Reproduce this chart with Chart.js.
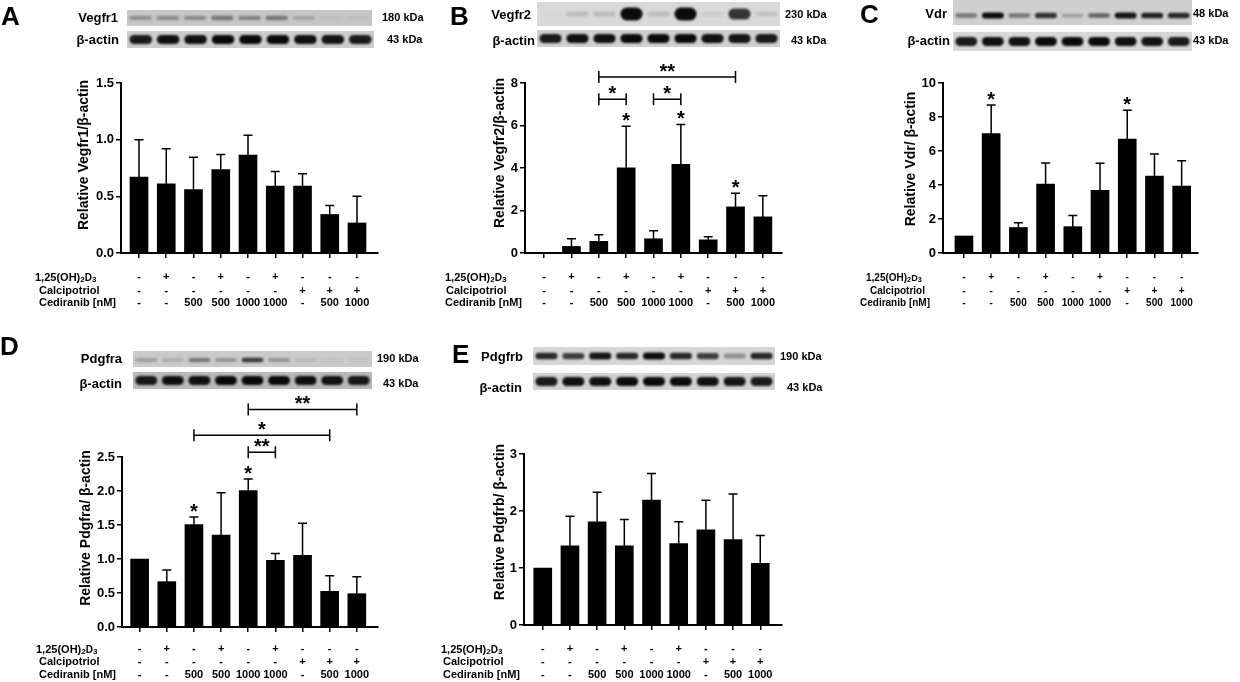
<!DOCTYPE html>
<html lang="en">
<head>
<meta charset="utf-8">
<title>Receptor expression after vitamin D and cediranib</title>
<script src="https://cdn.jsdelivr.net/npm/chart.js@4.4.0/dist/chart.umd.min.js"></script>
<style>
  html, body { margin: 0; padding: 0; background: #fff; }
  #figure { position: relative; width: 1240px; height: 682px; overflow: hidden; }
  #figure canvas { position: absolute; left: 0; top: 0; }
</style>
</head>
<body>
<div id="figure">
  <canvas id="panelA" width="1240" height="682"></canvas>
  <canvas id="panelB" width="1240" height="682"></canvas>
  <canvas id="panelC" width="1240" height="682"></canvas>
  <canvas id="panelD" width="1240" height="682"></canvas>
  <canvas id="panelE" width="1240" height="682"></canvas>
</div>
<script>
const FONT = "Arial, 'Liberation Sans', Helvetica, sans-serif";

// treatment table shown under every graph
const vitD3 = ['-', '+', '-', '+', '-', '+', '-', '-', '-'];
const calcipotriol = ['-', '-', '-', '-', '-', '-', '+', '+', '+'];
const cediranib = ['-', '-', '500', '500', '1000', '1000', '-', '500', '1000'];

// bar heights (mean) and error bars (SD)
const vegfr1Mean = [0.67, 0.61, 0.56, 0.735, 0.865, 0.59, 0.59, 0.34, 0.265];
const vegfr1Sd = [0.33, 0.31, 0.285, 0.135, 0.175, 0.13, 0.11, 0.08, 0.235];

const vegfr2Mean = [0, 0.31, 0.55, 4.01, 0.67, 4.17, 0.62, 2.17, 1.70];
const vegfr2Sd = [0, 0.36, 0.31, 1.96, 0.38, 1.88, 0.14, 0.64, 1.0];

const vdrMean = [1.0, 7.03, 1.5, 4.06, 1.55, 3.68, 6.7, 4.52, 3.93];
const vdrSd = [0, 1.67, 0.28, 1.23, 0.65, 1.6, 1.7, 1.3, 1.5];

const pdgfraMean = [1.0, 0.667, 1.506, 1.353, 2.005, 0.98, 1.054, 0.525, 0.49];
const pdgfraSd = [0, 0.17, 0.11, 0.62, 0.17, 0.10, 0.47, 0.23, 0.25];

const pdgfrbMean = [1.0, 1.39, 1.81, 1.39, 2.19, 1.43, 1.67, 1.50, 1.08];
const pdgfrbSd = [0, 0.52, 0.52, 0.46, 0.47, 0.38, 0.52, 0.8, 0.49];

// band strength on the blots (0 = nothing, 1 = black)
const vegfr1Bands = [0.3, 0.32, 0.32, 0.42, 0.38, 0.42, 0.2, 0.05, 0.05];
const vegfr2Bands = [0.02, 0.15, 0.15, 1, 0.15, 1, 0.08, 0.8, 0.12];
const vdrBands = [0.45, 1, 0.45, 0.8, 0.25, 0.55, 0.95, 0.9, 0.85];
const pdgfraBands = [0.25, 0.15, 0.45, 0.3, 0.75, 0.3, 0.1, 0.05, 0.05];
const pdgfrbBands = [0.85, 0.75, 0.95, 0.85, 1, 0.85, 0.75, 0.35, 0.85];
const actinBands = [0.92, 0.97, 0.97, 1, 1, 1, 0.97, 0.95, 0.92];

const panels = [
  {
    canvas: 'panelA', letter: 'A', letterPos: [1, 25],
    mean: vegfr1Mean, sd: vegfr1Sd, stars: [], brackets: [],
    yMax: 1.5, yStep: 0.5, yDecimals: 1, xMin: -0.66, xMax: 8.77,
    area: { left: 121, top: 83, right: 378, bottom: 253 },
    yTitle: 'Relative Vegfr1/β-actin', yTitlePos: [84, 155],
    blots: [
      { name: 'Vegfr1', size: '180 kDa', bands: vegfr1Bands, rect: [127, 10, 245, 16], bg: 198, nameX: 118, sizeX: 382, textY: 18, h: [3, 6], dy: 0 },
      { name: 'β-actin', size: '43 kDa', bands: actinBands, rect: [127, 31, 247, 17], bg: 205, nameX: 119, sizeX: 387, textY: 40, h: [7, 9], dy: 0 }
    ],
    table: { x: [35, 39, 39], y: [277, 291, 303], size: 11 }
  },
  {
    canvas: 'panelB', letter: 'B', letterPos: [450, 25],
    mean: vegfr2Mean, sd: vegfr2Sd, stars: [3, 5, 7],
    brackets: [[2, 7, '**', 8.28], [2, 3, '*', 7.23], [4, 5, '*', 7.23]],
    yMax: 8, yStep: 2, yDecimals: 0, xMin: -0.7, xMax: 8.7,
    area: { left: 525, top: 83, right: 782, bottom: 253 },
    yTitle: 'Relative Vegfr2/β-actin', yTitlePos: [500, 153],
    blots: [
      { name: 'Vegfr2', size: '230 kDa', bands: vegfr2Bands, rect: [537, 2, 243, 24], bg: 217, nameX: 531, sizeX: 785, textY: 15, h: [3, 13], dy: 0 },
      { name: 'β-actin', size: '43 kDa', bands: actinBands, rect: [537, 30, 243, 17], bg: 208, nameX: 535, sizeX: 791, textY: 41, h: [7, 9], dy: 0 }
    ],
    table: { x: [445, 446, 445], y: [277, 291, 303], size: 11 }
  },
  {
    canvas: 'panelC', letter: 'C', letterPos: [860, 23],
    mean: vdrMean, sd: vdrSd, stars: [1, 6], brackets: [],
    yMax: 10, yStep: 2, yDecimals: 0, xMin: -0.77, xMax: 8.6,
    area: { left: 943, top: 83, right: 1198, bottom: 253 },
    yTitle: 'Relative Vdr/ β-actin', yTitlePos: [911, 159],
    blots: [
      { name: 'Vdr', size: '48 kDa', bands: vdrBands, rect: [953, 0, 239, 25], bg: 207, nameX: 947, sizeX: 1193, textY: 14, h: [3, 6], dy: 3 },
      { name: 'β-actin', size: '43 kDa', bands: actinBands, rect: [953, 32, 239, 19], bg: 215, nameX: 950, sizeX: 1193, textY: 41, h: [7, 9], dy: 0 }
    ],
    table: { x: [866, 870, 860], y: [277, 291, 303], size: 10 }
  },
  {
    canvas: 'panelD', letter: 'D', letterPos: [0, 355],
    mean: pdgfraMean, sd: pdgfraSd, stars: [2, 4],
    brackets: [[4, 8, '**', 3.2], [2, 7, '*', 2.82], [4, 5, '**', 2.57]],
    yMax: 2.5, yStep: 0.5, yDecimals: 1, xMin: -0.65, xMax: 8.78,
    area: { left: 122, top: 457, right: 378, bottom: 627 },
    yTitle: 'Relative Pdgfra/ β-actin', yTitlePos: [86, 528],
    blots: [
      { name: 'Pdgfra', size: '190 kDa', bands: pdgfraBands, rect: [133, 351, 239, 16], bg: 202, nameX: 122, sizeX: 377, textY: 359, h: [3, 5], dy: 1 },
      { name: 'β-actin', size: '43 kDa', bands: actinBands, rect: [133, 372, 239, 17], bg: 185, nameX: 122, sizeX: 383, textY: 384, h: [7, 9], dy: 0 }
    ],
    table: { x: [36, 39, 39], y: [649, 662, 675], size: 11 }
  },
  {
    canvas: 'panelE', letter: 'E', letterPos: [452, 363],
    mean: pdgfrbMean, sd: pdgfrbSd, stars: [], brackets: [],
    yMax: 3, yStep: 1, yDecimals: 0, xMin: -0.69, xMax: 8.8,
    area: { left: 524, top: 454, right: 782, bottom: 625 },
    yTitle: 'Relative Pdgfrb/ β-actin', yTitlePos: [500, 522],
    blots: [
      { name: 'Pdgfrb', size: '190 kDa', bands: pdgfrbBands, rect: [533, 347, 242, 18], bg: 214, nameX: 523, sizeX: 780, textY: 357, h: [4, 7], dy: 0 },
      { name: 'β-actin', size: '43 kDa', bands: actinBands, rect: [533, 373, 242, 17], bg: 211, nameX: 522, sizeX: 787, textY: 388, h: [7, 9], dy: 0 }
    ],
    table: { x: [441, 443, 443], y: [649, 662, 675], size: 11 }
  }
];

const Y_WIDTH = 50;
const X_HEIGHT = 10;

function drawBlot(ctx, b) {
  const [x, y, w, h] = b.rect;
  ctx.fillStyle = `rgb(${b.bg},${b.bg},${b.bg})`;
  ctx.fillRect(x, y, w, h);
  const lane = w / b.bands.length;
  ctx.save();
  ctx.filter = 'blur(1px)';
  b.bands.forEach((v, i) => {
    if (v <= 0) return;
    const g = Math.round(b.bg * (1 - 0.95 * v));
    const bw = lane * 0.82;
    const bh = b.h[0] + (b.h[1] - b.h[0]) * v;
    const cx = x + lane * (i + 0.5);
    const cy = y + h / 2 + b.dy;
    ctx.fillStyle = `rgb(${g},${g},${g})`;
    ctx.beginPath();
    ctx.roundRect(cx - bw / 2, cy - bh / 2, bw, bh, bh / 2);
    ctx.fill();
  });
  ctx.restore();

  ctx.fillStyle = '#000';
  ctx.textBaseline = 'middle';
  ctx.font = `bold 13px ${FONT}`;
  ctx.textAlign = 'right';
  ctx.fillText(b.name, b.nameX, b.textY);
  ctx.font = `bold 11px ${FONT}`;
  ctx.textAlign = 'left';
  ctx.fillText(b.size, b.sizeX, b.textY);
}

function drawVitDLabel(ctx, x, y, size) {
  // 1,25(OH)2D3 with the small subscript digits
  const k = size / 11;
  const parts = [['1,25(OH)', size, 0], ['2', 8 * k, 1], ['D', 10 * k, 0], ['3', 8 * k, 1]];
  ctx.textAlign = 'left';
  ctx.textBaseline = 'alphabetic';
  let cx = x;
  parts.forEach(([t, s, dy]) => {
    ctx.font = `bold ${s}px ${FONT}`;
    ctx.fillText(t, cx, y + 4 * k + dy);
    cx += ctx.measureText(t).width;
  });
}

function makeFigurePlugin(p) {
  return {
    id: 'figure',
    afterDatasetsDraw(chart) {
      const ctx = chart.ctx;
      const xs = chart.scales.x, ys = chart.scales.y;
      ctx.save();
      ctx.strokeStyle = '#000';
      ctx.lineWidth = 1.5;
      p.mean.forEach((m, i) => {
        if (!p.sd[i]) return;
        const px = xs.getPixelForValue(i);
        const y0 = ys.getPixelForValue(m);
        const y1 = ys.getPixelForValue(m + p.sd[i]);
        ctx.beginPath();
        ctx.moveTo(px, y0);
        ctx.lineTo(px, y1);
        ctx.moveTo(px - 4.5, y1);
        ctx.lineTo(px + 4.5, y1);
        ctx.stroke();
      });
      ctx.restore();
    },
    afterDraw(chart) {
      const ctx = chart.ctx;
      const xs = chart.scales.x, ys = chart.scales.y;
      ctx.save();

      // panel letter
      ctx.fillStyle = '#000';
      ctx.font = `bold 26px ${FONT}`;
      ctx.textAlign = 'left';
      ctx.textBaseline = 'alphabetic';
      ctx.fillText(p.letter, p.letterPos[0], p.letterPos[1]);

      // western blots
      p.blots.forEach(b => drawBlot(ctx, b));

      // y axis title
      ctx.save();
      ctx.translate(p.yTitlePos[0], p.yTitlePos[1]);
      ctx.rotate(-Math.PI / 2);
      ctx.font = `bold 14px ${FONT}`;
      ctx.textAlign = 'center';
      ctx.textBaseline = 'middle';
      ctx.fillStyle = '#000';
      ctx.fillText(p.yTitle, 0, 0);
      ctx.restore();

      // significance stars over bars
      ctx.font = `bold 20px ${FONT}`;
      ctx.textAlign = 'center';
      ctx.textBaseline = 'alphabetic';
      p.stars.forEach(i => {
        const tip = ys.getPixelForValue(p.mean[i] + p.sd[i]);
        ctx.fillText('*', xs.getPixelForValue(i), tip + 1);
      });

      // comparison brackets
      ctx.strokeStyle = '#000';
      ctx.lineWidth = 1.5;
      p.brackets.forEach(([a, b, label, level]) => {
        const xa = xs.getPixelForValue(a), xb = xs.getPixelForValue(b);
        const y = ys.getPixelForValue(level);
        ctx.beginPath();
        ctx.moveTo(xa, y); ctx.lineTo(xb, y);
        ctx.moveTo(xa, y - 6); ctx.lineTo(xa, y + 6);
        ctx.moveTo(xb, y - 6); ctx.lineTo(xb, y + 6);
        ctx.stroke();
        ctx.fillText(label, (xa + xb) / 2, y + 1);
      });

      // treatment table
      const t = p.table;
      ctx.fillStyle = '#000';
      drawVitDLabel(ctx, t.x[0], t.y[0], t.size);
      ctx.font = `bold ${t.size}px ${FONT}`;
      ctx.textAlign = 'left';
      ctx.textBaseline = 'middle';
      ctx.fillText('Calcipotriol', t.x[1], t.y[1]);
      ctx.fillText('Cediranib [nM]', t.x[2], t.y[2]);
      ctx.textAlign = 'center';
      [vitD3, calcipotriol, cediranib].forEach((row, r) => {
        row.forEach((s, i) => ctx.fillText(s, xs.getPixelForValue(i), t.y[r]));
      });
      ctx.restore();
    }
  };
}

Chart.defaults.font.family = FONT;
Chart.defaults.color = '#000';

panels.forEach(p => {
  const a = p.area;
  new Chart(document.getElementById(p.canvas), {
    type: 'bar',
    data: {
      datasets: [{
        data: p.mean.map((v, i) => ({ x: i, y: v })),
        backgroundColor: '#000',
        borderWidth: 0,
        barThickness: 18
      }]
    },
    options: {
      responsive: false,
      animation: false,
      events: [],
      layout: {
        padding: {
          left: a.left - Y_WIDTH,
          top: a.top,
          right: 1240 - a.right,
          bottom: 682 - a.bottom - X_HEIGHT
        }
      },
      plugins: { legend: { display: false }, tooltip: { enabled: false } },
      scales: {
        x: {
          type: 'linear',
          min: p.xMin,
          max: p.xMax,
          offset: false,
          afterBuildTicks: s => { s.ticks = p.mean.map((_, i) => ({ value: i })); },
          afterFit: s => { s.height = X_HEIGHT; },
          grid: { offset: false, drawOnChartArea: false, drawTicks: true, tickLength: 5, color: '#000', lineWidth: 1.5 },
          border: { display: true, color: '#000', width: 2 },
          ticks: { callback: () => '' }
        },
        y: {
          min: 0,
          max: p.yMax,
          afterFit: s => { s.width = Y_WIDTH; },
          grid: { drawOnChartArea: false, drawTicks: true, tickLength: 5, color: '#000', lineWidth: 1.5 },
          border: { display: true, color: '#000', width: 2 },
          ticks: {
            stepSize: p.yStep,
            padding: 2,
            color: '#000',
            font: { size: 13, weight: 'bold' },
            callback: v => Number(v).toFixed(p.yDecimals)
          }
        }
      }
    },
    plugins: [makeFigurePlugin(p)]
  });
});
</script>
</body>
</html>
